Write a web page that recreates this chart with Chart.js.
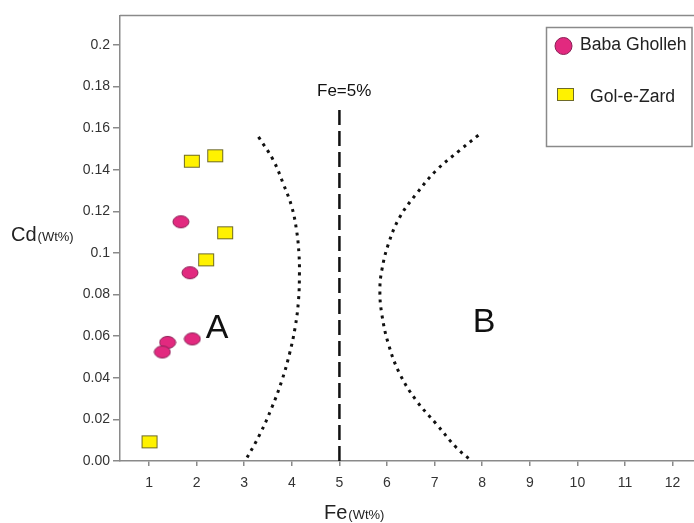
<!DOCTYPE html>
<html>
<head>
<meta charset="utf-8">
<script src="https://cdn.jsdelivr.net/npm/chart.js@4"></script>
<style>
  html, body { margin: 0; padding: 0; background: #fff; }
  #wrap { width: 694px; height: 523px; }
</style>
</head>
<body>
<div id="wrap"><canvas id="chart"></canvas></div>
<script>
// data
const babaFe = [1.67, 1.86, 1.39, 1.28, 1.91];
const babaCd = [0.115, 0.0905, 0.057, 0.0524, 0.0587];
const golFe = [1.90, 2.39, 2.60, 2.20, 1.01];
const golCd = [0.1441, 0.1467, 0.1097, 0.0967, 0.0092];

// boundary curves (dotted)
const leftCurveFe = [3.30, 3.61, 3.82, 4.00, 4.10, 4.15, 4.16, 4.14, 4.07, 3.95, 3.79, 3.58, 3.33, 3.02];
const leftCurveCd = [0.1558, 0.1446, 0.1333, 0.1221, 0.1108, 0.0996, 0.090, 0.0771, 0.0643, 0.0514, 0.0386, 0.0257, 0.0129, 0];
const rightCurveFe = [7.92, 7.53, 7.04, 6.62, 6.27, 6.03, 5.89, 5.85, 5.89, 6.03, 6.27, 6.62, 7.04, 7.46, 7.78];
const rightCurveCd = [0.1566, 0.1494, 0.1398, 0.1285, 0.1173, 0.1044, 0.0916, 0.0819, 0.0707, 0.0562, 0.0418, 0.0289, 0.0177, 0.0064, 0];

// Fe = 5% divider
const dividerFe = [5, 5];
const dividerCd = [0, 0.1703];

const xTicks = [1, 2, 3, 4, 5, 6, 7, 8, 9, 10, 11, 12];
const yTicks = [0, 0.02, 0.04, 0.06, 0.08, 0.1, 0.12, 0.14, 0.16, 0.18, 0.2];
const yTickLabels = ['0.00', '0.02', '0.04', '0.06', '0.08', '0.1', '0.12', '0.14', '0.16', '0.18', '0.2'];

const FONT = '"Liberation Sans", Arial, sans-serif';
const PINK = '#e2297f', PINK_EDGE = '#8a1f55';
const YELLOW = '#fff200', YELLOW_EDGE = '#6e6a28';

function pts(xs, ys) {
    return xs.map((x, i) => ({ x: x, y: ys[i] }));
}

function markerCanvas(kind) {
    const c = document.createElement('canvas');
    c.width = 18; c.height = 15;
    const g = c.getContext('2d');
    g.lineWidth = 1;
    if (kind === 'ellipse') {
        g.fillStyle = PINK; g.strokeStyle = PINK_EDGE;
        g.beginPath();
        g.ellipse(9, 7.5, 8, 6, 0, 0, Math.PI * 2);
        g.fill(); g.stroke();
    } else {
        g.fillStyle = YELLOW; g.strokeStyle = YELLOW_EDGE;
        g.fillRect(1.5, 1.5, 15, 12);
        g.strokeRect(1.5, 1.5, 15, 12);
    }
    return c;
}
const ellipseMark = markerCanvas('ellipse');
const squareMark = markerCanvas('square');

const overlay = {
    id: 'overlay',
    afterDatasetsDraw(chart) {
        const ctx = chart.ctx;
        const a = chart.chartArea;
        const xs = chart.scales.x, ys = chart.scales.y;
        ctx.save();

        // top frame line
        ctx.strokeStyle = '#8a8a8a';
        ctx.lineWidth = 1.5;
        ctx.beginPath();
        ctx.moveTo(a.left, a.top - 0.5);
        ctx.lineTo(chart.width, a.top - 0.5);
        ctx.stroke();

        // region letters and the divider label
        ctx.fillStyle = '#111';
        ctx.textAlign = 'center';
        ctx.textBaseline = 'middle';
        ctx.font = '34px ' + FONT;
        ctx.fillText('A', xs.getPixelForValue(2.43), ys.getPixelForValue(0.0636));
        ctx.fillText('B', xs.getPixelForValue(8.04), ys.getPixelForValue(0.0665));
        ctx.font = '17px ' + FONT;
        ctx.fillText('Fe=5%', xs.getPixelForValue(5.1), ys.getPixelForValue(0.1775));

        // axis titles with small units
        ctx.textAlign = 'left';
        ctx.textBaseline = 'alphabetic';
        ctx.fillStyle = '#222';
        ctx.font = '20px ' + FONT;
        ctx.fillText('Fe', 324, 519);
        let w = ctx.measureText('Fe').width;
        ctx.font = '13px ' + FONT;
        ctx.fillText('(Wt%)', 324 + w + 1, 519);
        ctx.font = '20px ' + FONT;
        ctx.fillText('Cd', 11, 241);
        w = ctx.measureText('Cd').width;
        ctx.font = '13px ' + FONT;
        ctx.fillText('(Wt%)', 11 + w + 1, 241);

        // legend box
        ctx.fillStyle = '#fff';
        ctx.fillRect(546, 27, 146, 119);
        ctx.strokeStyle = '#8a8a8a';
        ctx.lineWidth = 1.5;
        ctx.strokeRect(546.5, 27.5, 145.5, 119);
        ctx.fillStyle = PINK; ctx.strokeStyle = PINK_EDGE; ctx.lineWidth = 1;
        ctx.beginPath();
        ctx.arc(563.5, 46, 8.5, 0, Math.PI * 2);
        ctx.fill(); ctx.stroke();
        ctx.fillStyle = YELLOW; ctx.strokeStyle = YELLOW_EDGE;
        ctx.fillRect(557.5, 88.5, 16, 12);
        ctx.strokeRect(557.5, 88.5, 16, 12);
        ctx.fillStyle = '#222';
        ctx.font = '17.6px ' + FONT;
        ctx.textBaseline = 'middle';
        ctx.fillText(chart.data.datasets[0].label, 580, 45.5);
        ctx.fillText(chart.data.datasets[1].label, 590, 97.5);

        ctx.restore();
    }
};

document.addEventListener('DOMContentLoaded', function () {
    const ctx = document.getElementById('chart').getContext('2d');
    new Chart(ctx, {
        type: 'scatter',
        data: {
            datasets: [{
                label: 'Baba Gholleh',
                data: pts(babaFe, babaCd),
                pointStyle: ellipseMark,
                order: 1
            }, {
                label: 'Gol-e-Zard',
                data: pts(golFe, golCd),
                pointStyle: squareMark,
                order: 1
            }, {
                label: 'divider',
                data: pts(dividerFe, dividerCd),
                showLine: true,
                borderColor: '#111',
                borderWidth: 2.5,
                borderDash: [15, 6],
                pointRadius: 0,
                order: 2
            }, {
                label: 'left boundary',
                data: pts(leftCurveFe, leftCurveCd),
                showLine: true,
                tension: 0.4,
                borderColor: '#111',
                borderWidth: 3,
                borderDash: [3, 5],
                pointRadius: 0,
                order: 2
            }, {
                label: 'right boundary',
                data: pts(rightCurveFe, rightCurveCd),
                showLine: true,
                tension: 0.4,
                borderColor: '#111',
                borderWidth: 3,
                borderDash: [3, 5],
                pointRadius: 0,
                order: 2
            }]
        },
        options: {
            responsive: true,
            maintainAspectRatio: false,
            animation: false,
            layout: { autoPadding: false, padding: { top: 16, right: 0, bottom: 0, left: 0 } },
            plugins: {
                legend: { display: false },
                tooltip: { enabled: false }
            },
            scales: {
                x: {
                    type: 'linear',
                    min: 0.39,
                    max: 12.45,
                    afterFit(scale) {
                        scale.height = 62;
                        scale.paddingLeft = 0;
                        scale.paddingRight = 0;
                    },
                    afterBuildTicks(scale) { scale.ticks = xTicks.map(v => ({ value: v })); },
                    grid: { drawOnChartArea: false, tickLength: 5, color: '#8a8a8a', lineWidth: 1.5 },
                    border: { color: '#8a8a8a', width: 1.5 },
                    ticks: {
                        padding: 9,
                        color: '#333',
                        font: { family: FONT, size: 14 },
                        callback: v => String(v)
                    }
                },
                y: {
                    type: 'linear',
                    min: 0,
                    max: 0.2139,
                    afterFit(scale) {
                        scale.width = 120;
                        scale.paddingTop = 0;
                        scale.paddingBottom = 0;
                    },
                    afterBuildTicks(scale) { scale.ticks = yTicks.map(v => ({ value: v })); },
                    grid: { drawOnChartArea: false, tickLength: 7, color: '#8a8a8a', lineWidth: 1.5 },
                    border: { color: '#8a8a8a', width: 1.5 },
                    ticks: {
                        padding: 3,
                        color: '#333',
                        font: { family: FONT, size: 14 },
                        callback: (v, i) => yTickLabels[i]
                    }
                }
            }
        },
        plugins: [overlay]
    });
});
</script>
</body>
</html>
